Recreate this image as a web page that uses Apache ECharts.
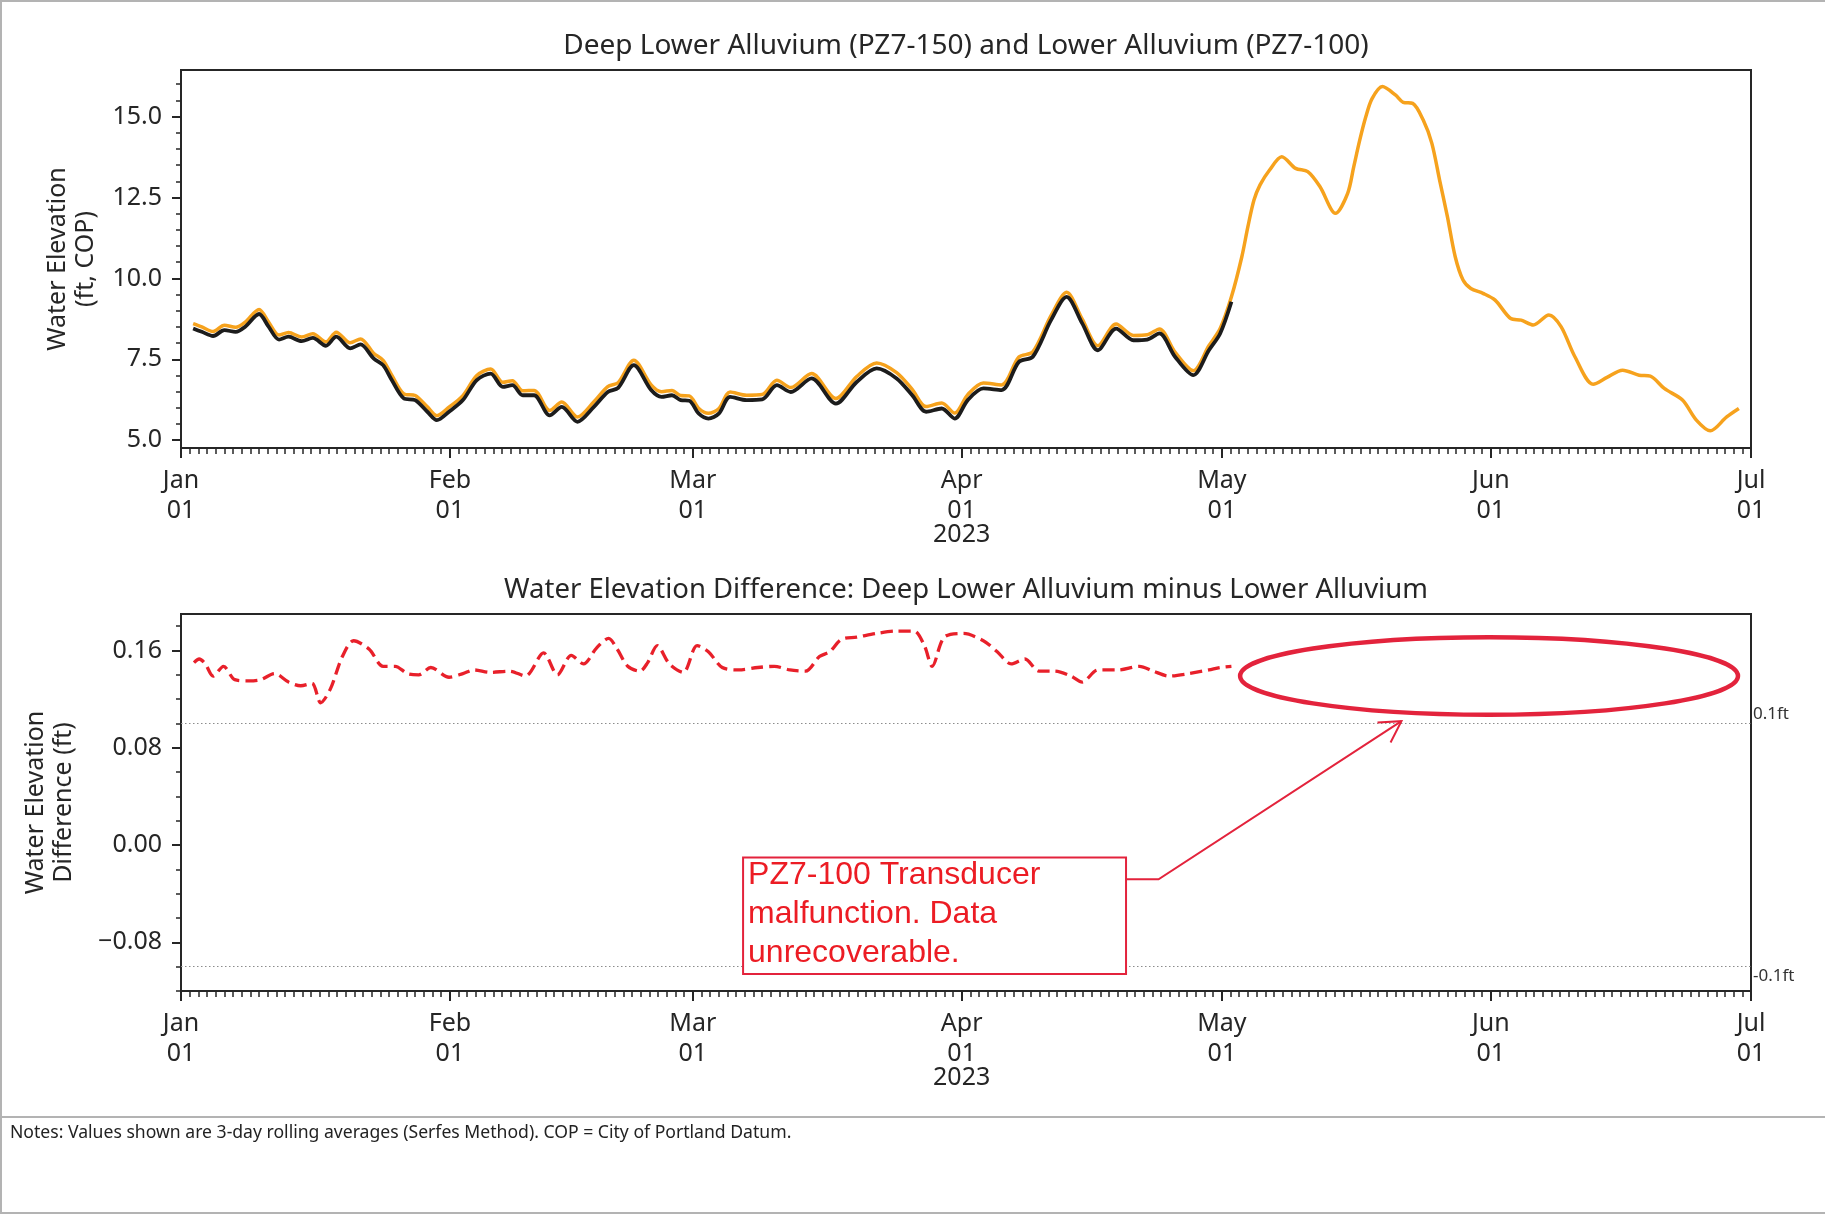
<!DOCTYPE html>
<html>
<head>
<meta charset="utf-8">
<script src="https://cdn.jsdelivr.net/npm/echarts@6/dist/echarts.min.js"></script>
<style>
html,body{margin:0;padding:0;background:#fff;}
#chart{position:absolute;left:0;top:0;width:1825px;height:1214px;}
</style>
</head>
<body>
<div id="chart"></div>
<script>
// ---------------- data (x = days since 2023-01-01) ----------------
const monthStartDays = [0, 31, 59, 90, 120, 151, 181];
const monthTickLabels = ['Jan\n01', 'Feb\n01', 'Mar\n01', 'Apr\n01\n2023', 'May\n01', 'Jun\n01', 'Jul\n01'];
const elevTickValues = [5.0, 7.5, 10.0, 12.5, 15.0];
const elevTickLabels = ['5.0', '7.5', '10.0', '12.5', '15.0'];
const diffTickValues = [-0.08, 0.00, 0.08, 0.16];
const diffTickLabels = ['\u22120.08', '0.00', '0.08', '0.16'];

// Lower Alluvium PZ7-100 (black)
const pz100Days = [1.4,2.4,3.7,5.0,6.3,7.4,9.0,10.1,11.3,12.4,13.9,15.2,16.7,17.9,19.5,20.7,22.2,23.3,24.3,25.7,27.0,28.4,29.5,30.9,32.5,34.1,35.7,37.1,38.2,39.4,40.7,42.5,43.9,45.7,47.6,49.2,50.4,52.2,54.2,55.4,56.6,57.6,58.6,59.7,60.8,62.0,63.3,65.2,67.0,68.7,70.3,72.7,75.5,77.9,80.2,82.5,84.3,85.9,87.7,89.2,90.7,92.5,94.6,96.6,98.2,100.3,102.1,103.9,105.7,107.8,109.8,111.4,112.8,114.6,116.7,118.5,119.8,121.1];
const pz100Values = [8.45,8.35,8.22,8.40,8.35,8.51,8.90,8.51,8.11,8.20,8.06,8.16,7.92,8.20,7.84,7.96,7.53,7.32,6.86,6.29,6.24,5.88,5.62,5.88,6.24,6.86,7.06,6.65,6.70,6.39,6.39,5.77,6.03,5.57,6.03,6.49,6.62,7.32,6.55,6.34,6.39,6.24,6.22,5.82,5.67,5.82,6.34,6.24,6.26,6.70,6.49,6.91,6.13,6.80,7.22,6.91,6.39,5.88,5.98,5.67,6.24,6.60,6.55,7.42,7.58,8.71,9.43,8.61,7.78,8.45,8.09,8.11,8.30,7.58,7.01,7.78,8.30,9.28];

// Deep Lower Alluvium PZ7-150 (orange)
const pz150Days = [1.4,2.4,3.7,5.0,6.3,7.4,9.0,10.1,11.3,12.4,13.9,15.2,16.7,17.9,19.5,20.7,22.2,23.3,24.3,25.7,27.0,28.4,29.5,30.9,32.5,34.1,35.7,37.1,38.2,39.4,40.7,42.5,43.9,45.7,47.6,49.2,50.4,52.2,54.2,55.4,56.6,57.6,58.6,59.7,60.8,62.0,63.3,65.2,67.0,68.7,70.3,72.7,75.5,77.9,80.2,82.5,84.3,85.9,87.7,89.2,90.7,92.5,94.6,96.6,98.2,100.3,102.1,103.9,105.7,107.8,109.8,111.4,112.8,114.6,116.7,118.5,119.8,121.1,122.3,123.0,123.7,124.4,125.5,126.9,128.5,129.9,131.3,133.1,134.5,135.2,135.9,136.6,137.3,138.5,140.0,140.9,142.0,143.2,144.2,145.1,146.0,146.9,147.8,148.7,150.1,151.5,153.3,154.5,155.9,157.7,159.1,160.7,162.8,164.4,166.2,168.1,169.4,171.0,173.1,174.7,176.3,178.2,179.6];
const pz150Values = [8.60,8.50,8.36,8.55,8.49,8.65,9.04,8.65,8.25,8.33,8.19,8.29,8.04,8.34,8.01,8.13,7.69,7.47,7.01,6.43,6.38,6.03,5.76,6.02,6.38,7.00,7.20,6.79,6.84,6.53,6.54,5.92,6.18,5.72,6.19,6.66,6.78,7.47,6.71,6.50,6.54,6.38,6.37,5.98,5.83,5.97,6.49,6.39,6.41,6.85,6.63,7.06,6.29,6.97,7.39,7.09,6.57,6.04,6.15,5.84,6.41,6.77,6.71,7.57,7.73,8.85,9.57,8.74,7.92,8.59,8.24,8.26,8.44,7.72,7.15,7.92,8.45,9.43,10.67,11.60,12.42,12.89,13.35,13.76,13.40,13.30,12.84,12.01,12.63,13.45,14.28,15.00,15.55,15.93,15.67,15.44,15.41,14.90,14.18,13.04,11.91,10.67,9.95,9.69,9.54,9.33,8.76,8.71,8.56,8.87,8.51,7.58,6.73,6.94,7.16,7.01,6.98,6.60,6.24,5.62,5.29,5.72,5.98];

// Difference (Deep Lower minus Lower)
const diffDays = [1.5,2.1,2.8,3.7,4.9,6.2,7.8,9.2,10.8,12.4,13.8,15.1,16.1,17.2,18.6,19.9,21.7,23.3,24.7,26.1,27.4,28.8,30.9,32.5,33.8,35.6,37.9,39.7,41.8,43.4,45.0,46.4,47.9,49.3,50.3,51.5,52.9,53.8,54.9,56.3,57.9,59.5,60.8,62.4,64.3,66.5,68.4,70.2,72.0,73.6,74.8,76.1,77.9,80.2,82.5,84.5,85.7,86.6,88.0,90.2,92.5,94.1,95.7,97.3,98.9,100.7,102.6,103.9,105.7,108.0,110.5,112.1,113.9,116.2,118.5,119.8,121.1];
const diffValues = [0.150,0.153,0.149,0.139,0.147,0.136,0.135,0.136,0.141,0.134,0.131,0.133,0.117,0.128,0.155,0.168,0.161,0.147,0.147,0.141,0.140,0.146,0.138,0.141,0.144,0.142,0.143,0.139,0.158,0.140,0.156,0.149,0.162,0.170,0.161,0.147,0.143,0.150,0.164,0.149,0.142,0.164,0.159,0.146,0.144,0.146,0.147,0.144,0.143,0.155,0.159,0.169,0.171,0.174,0.176,0.176,0.164,0.147,0.171,0.174,0.168,0.159,0.149,0.153,0.143,0.143,0.139,0.134,0.144,0.144,0.147,0.143,0.139,0.141,0.144,0.146,0.147];

// Annotation anchors (data coordinates of the lower panel)
const annBoxDays = [64.8, 108.95];
const annBoxValues = [-0.0102, -0.1061];
const annLeaderDays = [112.7, 140.7];
const annLeaderValues = [-0.0282, 0.1019];
const annEllipseDays = [122.1, 179.5];
const annEllipseValues = [0.1072, 0.1709];
const annText = ['PZ7-100 Transducer', 'malfunction. Data', 'unrecoverable.'];

// ---------------- styling ----------------
const FONT = "'Noto Sans', 'DejaVu Sans', sans-serif";
const AX = '#262626';
const ANN = '#e3233c';

function pairs(xs, ys) { return xs.map((x, i) => [x, ys[i]]); }
function steps(a, b, s) { const r = []; for (let v = a; v <= b + 1e-9; v += s) r.push(+v.toFixed(4)); return r; }

function mainX(g) {
  return {
    type: 'value', gridIndex: g, min: 0, max: 181, position: 'bottom',
    axisLine: { show: true, onZero: false, lineStyle: { color: AX, width: 2 } },
    axisTick: { show: true, length: 10, customValues: monthStartDays, lineStyle: { color: AX, width: 2 } },
    axisLabel: {
      customValues: monthStartDays, showMinLabel: true, showMaxLabel: true, margin: 17.5,
      formatter: function (v) {
        const i = monthStartDays.indexOf(Math.round(v));
        if (i < 0) return '';
        const parts = monthTickLabels[i].split('\n');
        return parts.map((p, k) => (k < 2 ? '{m|' + p + '}' : '{y|' + p + '}')).join('\n');
      },
      rich: {
        m: { fontSize: 25, lineHeight: 30, color: AX, fontFamily: FONT },
        y: { fontSize: 25, lineHeight: 18, color: AX, fontFamily: FONT }
      }
    },
    splitLine: { show: false }
  };
}
function minorX(g) {
  return {
    type: 'value', gridIndex: g, min: 0, max: 181, interval: 1, position: 'bottom',
    axisLine: { show: false, onZero: false },
    axisTick: { show: true, length: 6, lineStyle: { color: AX, width: 1.5 } },
    axisLabel: { show: false }, splitLine: { show: false }
  };
}
function mainY(g, min, max, vals, labels, name, gap) {
  return {
    type: 'value', gridIndex: g, min: min, max: max, position: 'left',
    axisLine: { show: true, onZero: false, lineStyle: { color: AX, width: 2 } },
    axisTick: { show: true, length: 9, customValues: vals, lineStyle: { color: AX, width: 2 } },
    axisLabel: {
      customValues: vals, margin: 19, fontSize: 25, color: AX, fontFamily: FONT,
      formatter: function (v) {
        let best = 0;
        vals.forEach((t, i) => { if (Math.abs(t - v) < Math.abs(vals[best] - v)) best = i; });
        return labels[best];
      }
    },
    splitLine: { show: false },
    name: name, nameLocation: 'middle', nameGap: gap,
    nameTextStyle: { fontSize: 25, color: AX, fontFamily: FONT, lineHeight: 28 }
  };
}
function minorY(g, min, max, ticks) {
  return {
    type: 'value', gridIndex: g, min: min, max: max, position: 'left',
    axisLine: { show: false, onZero: false },
    axisTick: { show: true, length: 5, customValues: ticks, lineStyle: { color: AX, width: 1.5 } },
    axisLabel: { show: false }, splitLine: { show: false }
  };
}

const chart = echarts.init(document.getElementById('chart'), null, { renderer: 'canvas', width: 1825, height: 1214 });

chart.setOption({
  animation: false,
  backgroundColor: '#ffffff',
  grid: [
    { left: 181, top: 70, width: 1570, height: 378, show: true, borderColor: AX, borderWidth: 2, backgroundColor: 'transparent' },
    { left: 181, top: 614, width: 1570, height: 377, show: true, borderColor: AX, borderWidth: 2, backgroundColor: 'transparent' }
  ],
  xAxis: [mainX(0), minorX(0), mainX(1), minorX(1)],
  yAxis: [
    mainY(0, 4.76, 16.44, elevTickValues, elevTickLabels, 'Water Elevation\n(ft, COP)', 81),
    minorY(0, 4.76, 16.44, steps(5.0, 16.0, 0.5)),
    mainY(1, -0.12, 0.19, diffTickValues, diffTickLabels, 'Water Elevation\nDifference (ft)', 103),
    minorY(1, -0.12, 0.19, steps(-0.12, 0.18, 0.02))
  ],
  series: [
    {
      name: 'Deep Lower Alluvium (PZ7-150)', type: 'line', xAxisIndex: 0, yAxisIndex: 0,
      data: pairs(pz150Days, pz150Values), showSymbol: false, smooth: 0.3, z: 2,
      lineStyle: { color: '#f6a21d', width: 3.5 }
    },
    {
      name: 'Lower Alluvium (PZ7-100)', type: 'line', xAxisIndex: 0, yAxisIndex: 0,
      data: pairs(pz100Days, pz100Values), showSymbol: false, smooth: 0.3, z: 3,
      lineStyle: { color: '#1c1c1c', width: 3.8 }
    },
    {
      name: 'Difference', type: 'line', xAxisIndex: 2, yAxisIndex: 2,
      data: pairs(diffDays, diffValues), showSymbol: false, smooth: 0.3, z: 3,
      lineStyle: { color: '#e8202a', width: 3.3, type: [12, 6] },
      markLine: {
        silent: true, symbol: 'none', animation: false,
        lineStyle: { type: [1.5, 2.5], color: '#8c8c8c', width: 1 },
        label: { show: true, position: 'end', distance: 2, fontSize: 17, color: '#333', fontFamily: FONT },
        data: [
          { yAxis: 0.1, label: { formatter: '0.1ft', offset: [0, -9] } },
          { yAxis: -0.1, label: { formatter: '-0.1ft', offset: [0, 9] } }
        ]
      }
    }
  ]
});

// ---------------- annotations & texts ----------------
const toPx = p => chart.convertToPixel({ seriesIndex: 2 }, p);
const boxTL = toPx([annBoxDays[0], annBoxValues[0]]);
const boxBR = toPx([annBoxDays[1], annBoxValues[1]]);
const bend = toPx([annLeaderDays[0], annLeaderValues[0]]);
const tip = toPx([annLeaderDays[1], annLeaderValues[1]]);
const elA = toPx([annEllipseDays[0], annEllipseValues[1]]);
const elB = toPx([annEllipseDays[1], annEllipseValues[0]]);

const dx = tip[0] - bend[0], dy = tip[1] - bend[1];
const len = Math.sqrt(dx * dx + dy * dy);
const ux = -dx / len, uy = -dy / len;
function rot(a) { return [tip[0] + 24 * (ux * Math.cos(a) - uy * Math.sin(a)), tip[1] + 24 * (ux * Math.sin(a) + uy * Math.cos(a))]; }
const h1 = rot(Math.PI / 6), h2 = rot(-Math.PI / 6);

chart.setOption({
  graphic: [
    { type: 'line', z: 100, shape: { x1: 0, y1: 1, x2: 1825, y2: 1 }, style: { stroke: '#b3b3b3', lineWidth: 2 } },
    { type: 'line', z: 100, shape: { x1: 1, y1: 0, x2: 1, y2: 1214 }, style: { stroke: '#b3b3b3', lineWidth: 2 } },
    { type: 'line', z: 100, shape: { x1: 0, y1: 1213, x2: 1825, y2: 1213 }, style: { stroke: '#b3b3b3', lineWidth: 2 } },
    { type: 'line', z: 100, shape: { x1: 0, y1: 1117, x2: 1825, y2: 1117 }, style: { stroke: '#b3b3b3', lineWidth: 2 } },
    { type: 'text', z: 100, x: 966, y: 46, style: { text: 'Deep Lower Alluvium (PZ7-150) and Lower Alluvium (PZ7-100)', fill: AX, fontSize: 28, fontFamily: FONT, align: 'center', verticalAlign: 'middle' } },
    { type: 'text', z: 100, x: 966, y: 590, style: { text: 'Water Elevation Difference: Deep Lower Alluvium minus Lower Alluvium', fill: AX, fontSize: 27.5, fontFamily: FONT, align: 'center', verticalAlign: 'middle' } },
    { type: 'text', z: 100, x: 10, y: 1133, style: { text: 'Notes: Values shown are 3-day rolling averages (Serfes Method). COP = City of Portland Datum.', fill: '#222', fontSize: 17.6, fontFamily: FONT, align: 'left', verticalAlign: 'middle' } },
    { type: 'rect', z: 100, shape: { x: boxTL[0], y: boxTL[1], width: boxBR[0] - boxTL[0], height: boxBR[1] - boxTL[1] }, style: { fill: '#ffffff', stroke: ANN, lineWidth: 2 } },
    { type: 'text', z: 101, x: boxTL[0] + 5, y: boxTL[1] - 2, style: { text: annText.join('\n'), fill: '#ec1c24', fontSize: 32, fontFamily: "'Liberation Sans', Arial, sans-serif", lineHeight: 39, align: 'left', verticalAlign: 'top' } },
    { type: 'polyline', z: 100, shape: { points: [[boxBR[0], bend[1]], bend, tip] }, style: { fill: 'none', stroke: ANN, lineWidth: 2 } },
    { type: 'polyline', z: 100, shape: { points: [h1, tip, h2] }, style: { fill: 'none', stroke: ANN, lineWidth: 2 } },
    { type: 'ellipse', z: 100, shape: { cx: (elA[0] + elB[0]) / 2, cy: (elA[1] + elB[1]) / 2, rx: (elB[0] - elA[0]) / 2, ry: (elB[1] - elA[1]) / 2 }, style: { fill: 'none', stroke: ANN, lineWidth: 4.5 } }
  ]
});
</script>
</body>
</html>
